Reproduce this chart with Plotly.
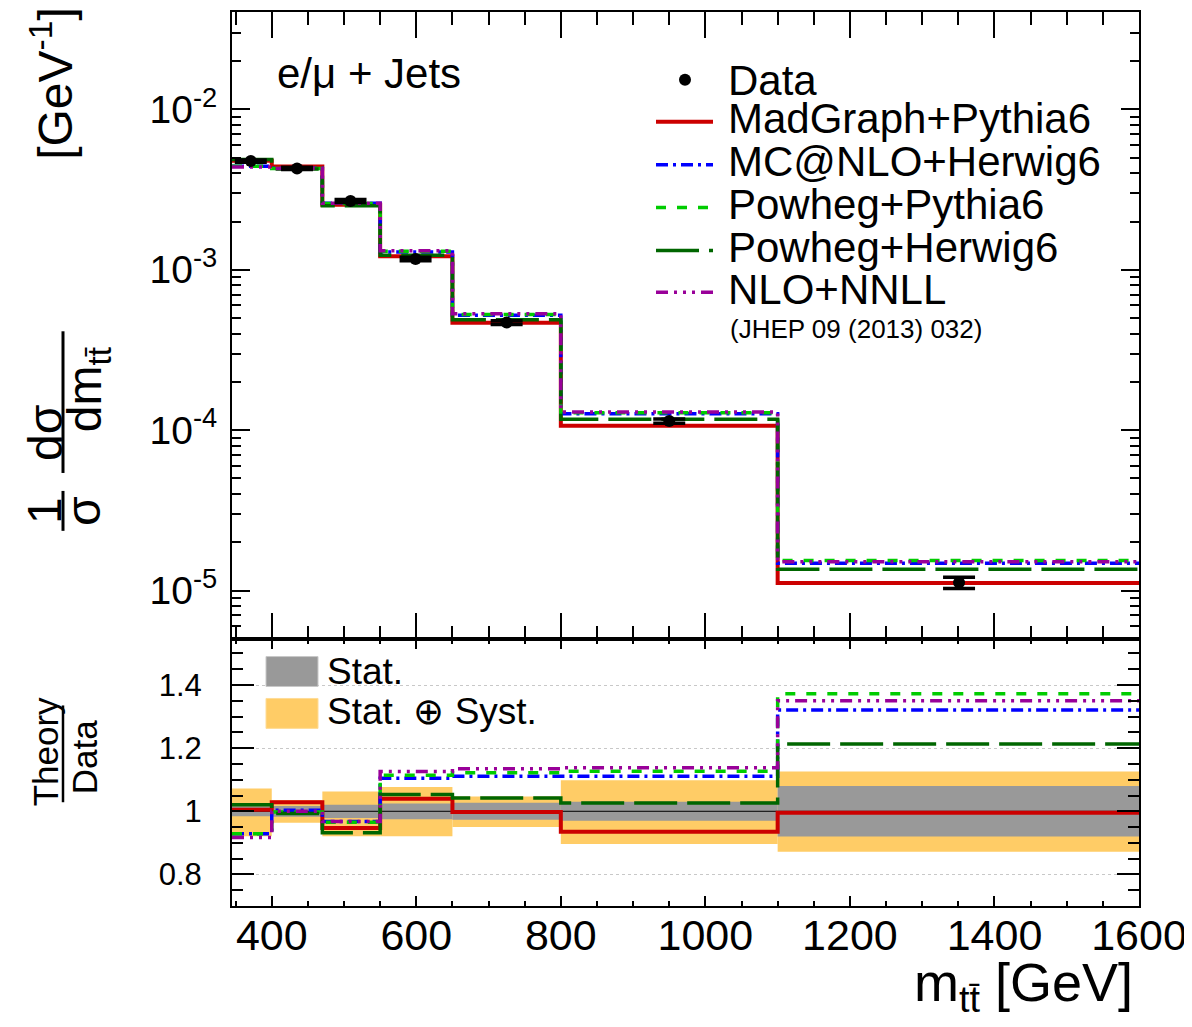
import plotly.graph_objects as go

# ---------------- data ----------------
bin_edges = [345, 400, 470, 550, 650, 800, 1100, 1600]
data_x = [371, 435, 509, 599, 725, 950, 1351]
data_y = [4.77e-3, 4.29e-3, 2.69e-3, 1.17e-3, 4.69e-4, 1.14e-4, 1.12e-5]
stat_rel = [0.016, 0.017, 0.021, 0.025, 0.027, 0.030, 0.080]
tot_up = [0.072, 0.036, 0.063, 0.077, 0.047, 0.098, 0.126]
tot_dn = [0.079, 0.036, 0.079, 0.079, 0.050, 0.104, 0.128]

ratio_madgraph = [1.005, 1.029, 0.947, 1.040, 0.998, 0.935, 0.995]
ratio_mcatnlo = [0.929, 1.003, 0.968, 1.105, 1.111, 1.111, 1.321]
ratio_powpy = [0.929, 0.998, 0.965, 1.114, 1.122, 1.127, 1.372]
ratio_powhw = [1.021, 0.993, 0.932, 1.053, 1.042, 1.026, 1.213]
ratio_nnll = [0.917, 1.000, 0.968, 1.126, 1.135, 1.138, 1.350]

series_names = ["MadGraph+Pythia6", "MC@NLO+Herwig6", "Powheg+Pythia6",
                "Powheg+Herwig6", "NLO+NNLL"]
series_ratios = [ratio_madgraph, ratio_mcatnlo, ratio_powpy, ratio_powhw, ratio_nnll]
series_colors = ["rgb(204,0,0)", "rgb(0,0,255)", "rgb(0,204,0)", "rgb(0,102,0)", "rgb(153,0,153)"]
series_dash = ["solid", "12px,5px,3px,5px", "10px,11px", "43px,10px",
               "12px,6px,3px,6px,3px,6px,3px,6px"]
series_width = [4, 3.5, 3.5, 3.5, 3.5]

top_tickvals = [1e-5, 1e-4, 1e-3, 1e-2]
top_ticktext = ["10<sup>-5</sup>", "10<sup>-4</sup>", "10<sup>-3</sup>", "10<sup>-2</sup>"]
ratio_tickvals = [0.8, 1.0, 1.2, 1.4]
ratio_ticktext = ["0.8", "1", "1.2", "1.4"]
x_tickvals = [400, 600, 800, 1000, 1200, 1400, 1600]

FONT = "Liberation Sans, Arial, Helvetica, sans-serif"

# ---------------- geometry helpers (screen pixel -> paper) ----------------
OFF = 8  # page body margin
W, H = 1192 - OFF, 1027 - 2 * OFF
PL, PR, PT, PB = 232 - OFF, 1139 - OFF, 10 - OFF, 906 - OFF
ML, MR, MT, MB = PL, W - PR, PT, H - PB
split_px = 638 - OFF
ratio_frac = (PB - split_px) / (PB - PT)


def px(x):
    return (x - OFF - PL) / (PR - PL)


def py(y):
    return (PB - (y - OFF)) / (PB - PT)


centers = [(a + b) / 2 for a, b in zip(bin_edges[:-1], bin_edges[1:])]
widths = [b - a for a, b in zip(bin_edges[:-1], bin_edges[1:])]


def step(vals):
    return list(vals) + [vals[-1]]


fig = go.Figure()

# ---------------- ratio panel bands ----------------
fig.add_trace(go.Bar(
    x=centers, y=[u + d for u, d in zip(tot_up, tot_dn)],
    base=[1 - d for d in tot_dn], width=widths,
    marker=dict(color="rgb(255,204,102)", line=dict(width=0)),
    xaxis="x2", yaxis="y2", showlegend=False, name="Stat. ⊕ Syst."))
fig.add_trace(go.Bar(
    x=centers, y=[2 * s for s in stat_rel],
    base=[1 - s for s in stat_rel], width=widths,
    marker=dict(color="rgb(153,153,153)", line=dict(width=0)),
    xaxis="x2", yaxis="y2", showlegend=False, name="Stat."))
fig.add_trace(go.Scatter(
    x=[bin_edges[0], bin_edges[-1]], y=[1, 1], mode="lines",
    line=dict(color="black", width=1), xaxis="x2", yaxis="y2",
    showlegend=False, hoverinfo="skip"))

# ---------------- theory curves ----------------
for name, r, c, d, w in zip(series_names, series_ratios, series_colors,
                            series_dash, series_width):
    top_vals = [dy * rr for dy, rr in zip(data_y, r)]
    fig.add_trace(go.Scatter(
        x=bin_edges, y=step(top_vals), mode="lines", line_shape="hv",
        line=dict(color=c, width=w, dash=d), name=name, showlegend=False,
        xaxis="x", yaxis="y"))
    fig.add_trace(go.Scatter(
        x=bin_edges, y=step(r), mode="lines", line_shape="hv",
        line=dict(color=c, width=w, dash=d), name=name, showlegend=False,
        xaxis="x2", yaxis="y2"))

# ---------------- data ----------------
fig.add_trace(go.Scatter(
    x=data_x, y=data_y, mode="markers",
    marker=dict(color="black", size=12),
    error_y=dict(type="data", array=[v * s for v, s in zip(data_y, stat_rel)],
                 color="black", thickness=3.5, width=16),
    name="Data", showlegend=False, xaxis="x", yaxis="y"))

# ---------------- axes ----------------
common_x = dict(range=[bin_edges[0], bin_edges[-1]], showline=True, linecolor="black",
                linewidth=2, mirror="ticks", ticks="inside", tickcolor="black",
                tickwidth=1.5, tickvals=x_tickvals, showgrid=False, zeroline=False)

fig.update_layout(
    width=W, height=H,
    margin=dict(l=ML, r=MR, t=MT, b=MB),
    paper_bgcolor="white", plot_bgcolor="white",
    barmode="overlay", showlegend=False,
    font=dict(family=FONT, color="black"),
    xaxis=dict(**common_x, anchor="y", matches="x2", showticklabels=False, ticklen=26,
               minor=dict(dtick=50, ticklen=13, ticks="inside", tickcolor="black", tickwidth=1.5)),
    xaxis2=dict(**common_x, anchor="y2", ticklen=10,
                tickfont=dict(size=43, family=FONT), ticklabelstandoff=-10,
                minor=dict(dtick=50, ticklen=5, ticks="inside", tickcolor="black", tickwidth=1.5)),
    yaxis=dict(type="log", domain=[ratio_frac, 1], range=[-5.30, -1.392], anchor="x",
               showline=True, linecolor="black", linewidth=2, mirror="ticks",
               ticks="inside", ticklen=18, tickcolor="black", tickwidth=1.5,
               tickvals=top_tickvals, ticktext=top_ticktext,
               tickfont=dict(size=39, family=FONT), ticklabelstandoff=5,
               minor=dict(dtick="D1", ticklen=9, ticks="inside", tickcolor="black", tickwidth=1.5),
               showgrid=False, zeroline=False),
    yaxis2=dict(domain=[0, ratio_frac], range=[0.70, 1.547], anchor="x2",
                showline=True, linecolor="black", linewidth=2, mirror="ticks",
                ticks="inside", ticklen=22, tickcolor="black", tickwidth=1.5,
                tickvals=ratio_tickvals, ticktext=ratio_ticktext,
                tickfont=dict(size=31, family=FONT), ticklabelstandoff=22,
                minor=dict(dtick=0.05, ticklen=11, ticks="inside", tickcolor="black", tickwidth=1.5),
                showgrid=True, gridcolor="rgb(200,200,200)", griddash="dot", gridwidth=1,
                zeroline=False),
)

shapes = []
ann = []

# white box behind the band legend (covers the dotted grid line)
shapes.append(dict(type="rect", xref="paper", yref="paper", layer="between",
                   x0=px(236), x1=px(547), y0=py(740), y1=py(642),
                   fillcolor="white", line=dict(width=0)))

# ---------------- top legend (manual) ----------------
leg_rows = [120, 163, 206, 249, 291]
LX0, LX1, TX = 656, 713, 727
LFS = 42
shapes.append(dict(type="circle", xref="paper", yref="paper",
                   x0=px(685 - 6), x1=px(685 + 6), y0=py(78 + 6), y1=py(78 - 6),
                   fillcolor="black", line=dict(color="black", width=0)))
ann.append(dict(x=px(TX), y=py(79), xref="paper", yref="paper", text="Data",
                showarrow=False, xanchor="left", yanchor="middle", borderpad=0,
                font=dict(size=LFS, family=FONT)))
for yrow, name, c, d, w in zip(leg_rows, series_names, series_colors, series_dash, series_width):
    shapes.append(dict(type="line", xref="paper", yref="paper",
                       x0=px(LX0), x1=px(LX1), y0=py(yrow), y1=py(yrow),
                       line=dict(color=c, width=w, dash=d)))
    ann.append(dict(x=px(TX), y=py(yrow - 3), xref="paper", yref="paper", text=name,
                    showarrow=False, xanchor="left", yanchor="middle", borderpad=0,
                    font=dict(size=LFS, family=FONT)))
ann.append(dict(x=px(729), y=py(328), xref="paper", yref="paper", text="(JHEP 09 (2013) 032)",
                showarrow=False, xanchor="left", yanchor="middle", borderpad=0,
                font=dict(size=26, family=FONT)))

# channel label
ann.append(dict(x=px(275), y=py(72), xref="paper", yref="paper", text="e/μ + Jets",
                showarrow=False, xanchor="left", yanchor="middle",
                font=dict(size=42, family=FONT)))

# ---------------- band legend (manual) ----------------
shapes.append(dict(type="rect", xref="paper", yref="paper",
                   x0=px(266), x1=px(318), y0=py(686), y1=py(656),
                   fillcolor="rgb(153,153,153)", line=dict(color="rgb(200,200,200)", width=1)))
shapes.append(dict(type="rect", xref="paper", yref="paper",
                   x0=px(266), x1=px(318), y0=py(728), y1=py(698),
                   fillcolor="rgb(255,204,102)", line=dict(color="rgb(255,220,150)", width=1)))
ann.append(dict(x=px(325), y=py(671), xref="paper", yref="paper", text="Stat.",
                showarrow=False, xanchor="left", yanchor="middle", font=dict(size=37, family=FONT)))
ann.append(dict(x=px(325), y=py(711), xref="paper", yref="paper", text="Stat. ⊕ Syst.",
                showarrow=False, xanchor="left", yanchor="middle", font=dict(size=37, family=FONT)))

# ---------------- x title ----------------
ann.append(dict(x=px(1134), y=py(986), xref="paper", yref="paper",
                text="m<sub>tt̄</sub> [GeV]", showarrow=False, xanchor="right", yanchor="middle",
                borderpad=0, font=dict(size=54, family=FONT)))

# ---------------- y titles (rotated fractions) ----------------
def rot(x, y, text, size):
    ann.append(dict(x=px(x), y=py(y), xref="paper", yref="paper", text=text,
                    showarrow=False, textangle=-90, xanchor="center", yanchor="middle",
                    font=dict(size=size, family=FONT)))


def vbar(x, y0, y1, w=3):
    shapes.append(dict(type="line", xref="paper", yref="paper", x0=px(x), x1=px(x),
                       y0=py(y0), y1=py(y1), line=dict(color="black", width=w)))


rot(45, 510, "1", 48)
vbar(63, 490, 530)
rot(84, 510, "σ", 48)
rot(45, 432, "dσ", 48)
vbar(63, 330, 472)
rot(88, 388, "dm<sub>tt̄</sub>", 48)
rot(52, 82, "[GeV<sup>-1</sup>]", 48)

rot(45, 752, "Theory", 35)
vbar(63, 705, 802, 2.5)
rot(84, 757, "Data", 35)

fig.update_layout(shapes=shapes, annotations=ann)
fig.write_html("out.html")
